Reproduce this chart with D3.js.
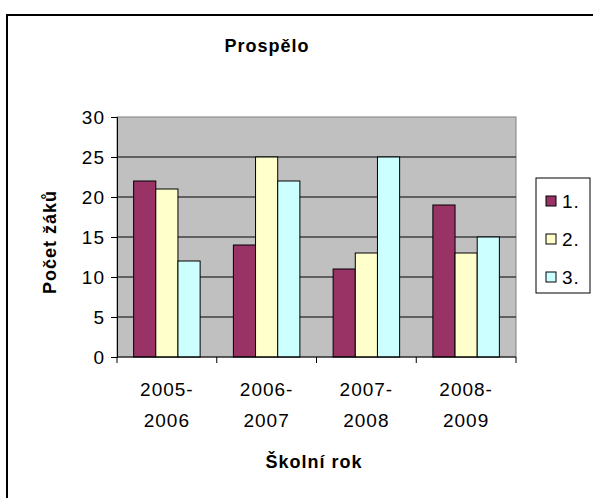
<!DOCTYPE html>
<html>
<head>
<meta charset="utf-8">
<script src="https://d3js.org/d3.v7.min.js"></script>
<style>
body { margin: 0; background: white; }
text { font-family: "Liberation Sans", Arial, sans-serif; fill: #000; }
.bold { font-weight: bold; }
</style>
</head>
<body>
<svg id="chart" width="593" height="498"></svg>
<script>
// data
var years = [["2005-", "2006"], ["2006-", "2007"], ["2007-", "2008"], ["2008-", "2009"]];
var seriesNames = ["1.", "2.", "3."];
var s1 = [22, 14, 11, 19];
var s2 = [21, 25, 13, 13];
var s3 = [12, 22, 25, 15];
var yTicks = [0, 5, 10, 15, 20, 25, 30];
var colors = ["#993366", "#FFFFCC", "#CCFFFF"];

var series = [s1, s2, s3];
var svg = d3.select("#chart");

// outer chart frame
svg.append("rect")
  .attr("x", 7).attr("y", 15).attr("width", 600).attr("height", 500)
  .attr("fill", "white").attr("stroke", "#000").attr("stroke-width", 2);

var pLeft = 117, pTop = 117, pRight = 516, pBottom = 357;

var x = d3.scaleBand().domain(d3.range(years.length)).range([pLeft, pRight]);
var xs = d3.scaleBand().domain(d3.range(series.length))
  .range([0, x.bandwidth()]).paddingOuter(0.75).paddingInner(0);
var y = d3.scaleLinear().domain([0, 30]).range([pBottom, pTop]);

// plot area
svg.append("rect")
  .attr("x", pLeft).attr("y", pTop).attr("width", pRight - pLeft).attr("height", pBottom - pTop)
  .attr("fill", "#C0C0C0").attr("stroke", "#808080").attr("stroke-width", 1);

svg.selectAll("line.grid")
  .data(yTicks.filter(function(d){ return d > 0 && d < 30; }))
  .enter().append("line")
  .attr("class", "grid")
  .attr("x1", pLeft).attr("x2", pRight)
  .attr("y1", function(d){ return y(d); }).attr("y2", function(d){ return y(d); })
  .attr("stroke", "#000").attr("stroke-width", 1);

// bars
series.forEach(function(vals, si) {
  svg.append("g").selectAll("rect")
    .data(vals)
    .enter().append("rect")
    .attr("x", function(d, i){ return x(i) + xs(si); })
    .attr("y", function(d){ return y(d); })
    .attr("width", xs.bandwidth())
    .attr("height", function(d){ return y(0) - y(d); })
    .attr("fill", colors[si])
    .attr("stroke", "#000").attr("stroke-width", 1);
});

// y axis
var yAxis = d3.axisLeft(y).tickValues(yTicks).tickSize(6).tickPadding(6);
var yg = svg.append("g").attr("transform", "translate(" + pLeft + ",0)").call(yAxis);
yg.selectAll("text")
  .style("font-size", "19px").style("letter-spacing", "1px")
  .attr("font-family", null).attr("dy", "0.35em");
yg.selectAll("line, path").attr("stroke", "#000");

// x axis with ticks between categories
var xAxisLine = svg.append("g");
xAxisLine.append("line")
  .attr("x1", pLeft).attr("x2", pRight).attr("y1", pBottom).attr("y2", pBottom)
  .attr("stroke", "#000");
xAxisLine.selectAll("line.tick")
  .data(d3.range(years.length + 1))
  .enter().append("line")
  .attr("x1", function(d){ return pLeft + d * x.step(); })
  .attr("x2", function(d){ return pLeft + d * x.step(); })
  .attr("y1", pBottom).attr("y2", pBottom + 6)
  .attr("stroke", "#000");

svg.selectAll("text.xlab")
  .data(years)
  .enter().append("text")
  .attr("class", "xlab")
  .attr("text-anchor", "middle")
  .style("font-size", "19px").style("letter-spacing", "1px")
  .attr("transform", function(d, i){ return "translate(" + (x(i) + x.bandwidth() / 2) + ",0)"; })
  .each(function(d) {
    d3.select(this).append("tspan").attr("x", 0).attr("y", 396).text(d[0]);
    d3.select(this).append("tspan").attr("x", 0).attr("y", 427).text(d[1]);
  });

// titles
svg.append("text").attr("class", "bold")
  .attr("x", 267).attr("y", 52).attr("text-anchor", "middle")
  .style("font-size", "18px").style("letter-spacing", "1px")
  .text("Prospělo");

svg.append("text").attr("class", "bold")
  .attr("x", 314).attr("y", 468).attr("text-anchor", "middle")
  .style("font-size", "18px").style("letter-spacing", "1px")
  .text("Školní rok");

svg.append("text").attr("class", "bold")
  .attr("transform", "translate(56,242) rotate(-90)")
  .attr("text-anchor", "middle")
  .style("font-size", "18px").style("letter-spacing", "1px")
  .text("Počet žáků");

// legend
var lg = svg.append("g");
lg.append("rect")
  .attr("x", 536).attr("y", 178).attr("width", 54).attr("height", 115)
  .attr("fill", "white").attr("stroke", "#000").attr("stroke-width", 1);
var items = lg.selectAll("g.item")
  .data(seriesNames)
  .enter().append("g")
  .attr("transform", function(d, i){ return "translate(0," + (201 + i * 38) + ")"; });
items.append("rect")
  .attr("x", 546).attr("y", -5).attr("width", 10).attr("height", 10)
  .attr("fill", function(d, i){ return colors[i]; })
  .attr("stroke", "#000");
items.append("text")
  .attr("x", 562).attr("y", 0).attr("dy", "0.35em")
  .style("font-size", "19px").style("letter-spacing", "1px")
  .text(function(d){ return d; });
</script>
</body>
</html>
